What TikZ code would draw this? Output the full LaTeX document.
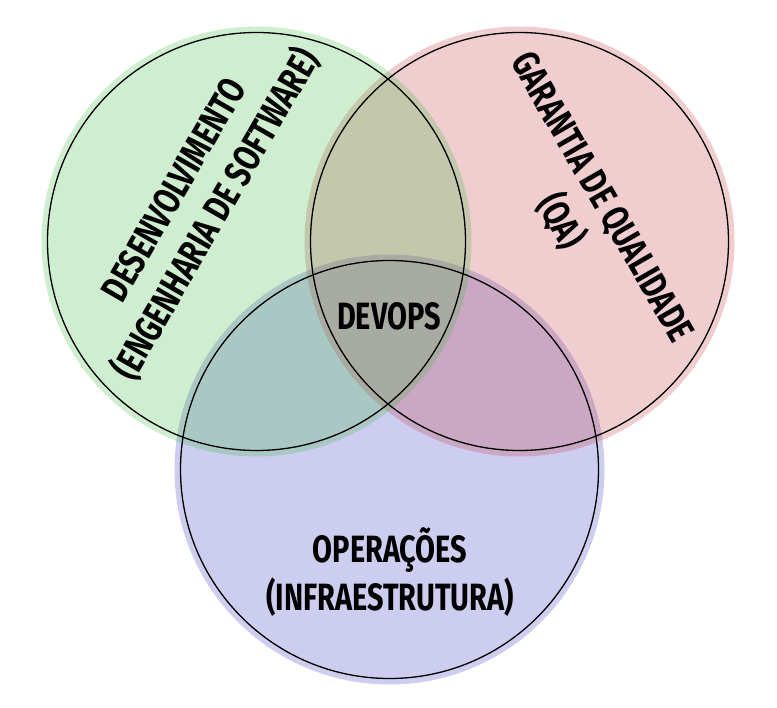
\documentclass[tikz,border=0pt]{standalone}
\usepackage{fontspec}
\newfontfamily\vennfont{Fira Sans}[FakeStretch=0.76]
\definecolor{devgreen}{RGB}{63,183,63}
\definecolor{qared}{RGB}{195,55,63}
\definecolor{opsblue}{RGB}{55,55,195}

\begin{document}
\begin{tikzpicture}[x=1pt,y=-1pt]
            \tikzstyle{set}=[circle,draw=black,line width=1.3pt,minimum size=418pt,inner sep=0pt]
            \tikzstyle{halo}=[fill opacity=0.25]
            \tikzstyle{label}=[font=\vennfont\bfseries\fontsize{38}{48}\selectfont,align=center,inner sep=0pt]

            \def\r{209}
            \def\h{215}

            \useasboundingbox (0,0) rectangle (777,708);

            \coordinate (cdev) at (256.5,241.5);
            \coordinate (cqa)  at (519.5,241.5);
            \coordinate (cops) at (389.5,469.5);

            % coloured discs
            \fill[halo,opsblue]  (cops) circle[radius=\h];
            \fill[halo,qared]    (cqa)  circle[radius=\h];
            \fill[halo,devgreen] (cdev) circle[radius=\h];

            % outlines
            \node[set] (dev) at (cdev) {};
            \node[set] (qa)  at (cqa)  {};
            \node[set] (ops) at (cops) {};

            % texts
            \node[label,rotate=60]  (devtext) at (197,203) {DESENVOLVIMENTO\\(ENGENHARIA DE SOFTWARE)};
            \node[label,rotate=-60] (qatext)  at (580,210) {GARANTIA DE QUALIDADE\\(QA)};
            \node[label]            (opstext) at (390,572) {OPERAÇÕES\\(INFRAESTRUTURA)};
            \node[label]            (devops)  at (389,316) {DEVOPS};
        \end{tikzpicture}
\end{document}
